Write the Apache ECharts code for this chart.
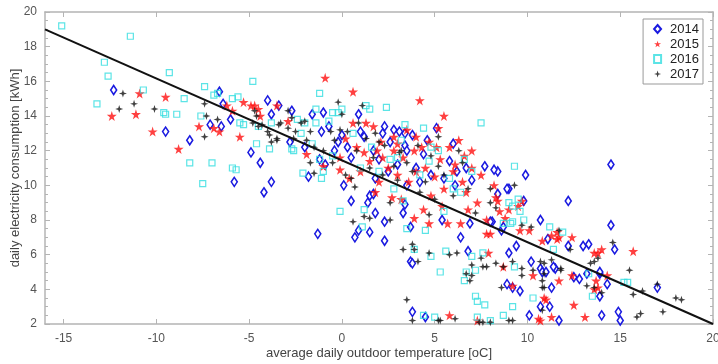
<!DOCTYPE html>
<html>
<head>
<meta charset="utf-8">
<script src="https://cdn.jsdelivr.net/npm/echarts@6/dist/echarts.min.js"></script>
<style>
  html, body { margin: 0; padding: 0; background: #fff; }
  #chart { width: 718px; height: 364px; }
</style>
</head>
<body>
<div id="chart"></div>
<script>
// [temperature oC, consumption kWh]
const data2014 = [
  [-12.3,15.5],[-9.5,13.1],[-8.2,12.6],[-7.1,13.5],[-6.6,15.4],[-6.5,13.4],[-6.4,14.7],[-6.0,13.8],[-4.9,11.9],[-4.4,11.3],
  [-5.8,10.2],[-4.2,9.6],[-3.8,10.2],[-4.0,14.9],[-3.8,14.1],[-3.4,14.6],[-2.7,14.3],[-2.8,12.5],[-1.6,14.1],[-1.0,14.2],
  [-0.7,13.4],[0.9,14.1],[-1.8,10.5],[-0.9,11.2],[-1.1,13.1],[-2.0,12.2],[-1.2,11.5],[0.3,12.2],[-0.2,12.5],[1.0,13.1],
  [-1.3,7.2],[0.1,10.0],[0.5,9.1],[0.7,7.0],[0.9,7.4],[1.4,9.0],[1.5,7.3],[1.5,9.4],
  [2.3,13.4],[2.2,13.0],[2.8,13.2],[3.1,13.1],[3.4,13.0],[3.8,12.9],[5.1,13.3],[3.4,12.3],[3.5,12.0],[4.4,11.8],[5.8,11.4],
  [6.7,11.0],[7.7,11.1],[1.7,12.0],[8.4,10.8],[8.2,10.9],[9.9,10.6],[14.5,11.2],
  [12.2,9.1],[9.0,9.8],[9.8,9.1],[10.7,8.0],[14.5,7.7],[8.4,9.5],[8.1,7.9],[8.6,7.4],
  [14.7,6.3],[13.0,6.5],[13.3,6.6],[12.2,6.5],[11.1,6.9],[9.0,6.1],[9.4,6.5],[10.2,5.6],[10.7,5.2],[11.5,5.2],[12.5,4.7],
  [12.8,4.6],[13.9,4.9],[14.3,4.3],[13.9,3.6],[17.0,4.1],[8.9,4.3],[9.2,4.1],[11.3,4.1],[11.2,3.0],[10.7,3.0],[10.1,2.5],
  [11.7,2.2],[14.0,2.5],[14.9,2.7],[15.0,2.2],[3.8,2.7],[4.5,2.4],[3.7,5.6],[6.4,7.0],[6.8,6.2],[6.9,7.8],[8.0,7.9],
  [8.7,7.6],[8.9,9.8],[5.4,8.0],[3.7,7.6],[2.3,6.8],[2.3,7.9],[1.8,8.4],[1.7,9.5],[3.3,8.4],[3.4,8.9],[3.5,10.0],[4.2,10.2],
  [6.1,10.0],[10.8,5.0],[11.4,5.3],[13.2,4.9],[13.9,5.0],[9.6,3.9],[11.0,5.0],[3.8,5.5],
  [1.2,12.8],[2.0,11.5],[2.5,10.8],[3.0,11.2],[4.0,11.0],[4.8,10.6],[0.5,11.6],[1.8,10.4],[5.5,10.4],[6.2,10.8],[2.6,12.5],
  [4.6,12.6],[6.0,12.4],[7.0,10.3],[0.0,12.9],[-0.4,12.0]
];
const data2015 = [
  [-12.4,14.0],[-10.9,15.3],[-11.1,14.1],[-10.2,13.1],[-9.5,15.1],[-8.8,12.1],[-7.7,13.4],[-6.9,13.3],[-6.6,13.1],[-6.2,14.6],
  [-5.9,14.3],[-5.5,12.8],[-5.3,14.8],[-4.9,14.6],[-4.5,14.4],[-4.4,14.0],[-3.5,14.6],[-2.9,13.7],[-0.9,16.2],[0.6,15.4],
  [-1.9,11.8],[-1.0,11.1],[-0.1,10.9],[-4.7,14.6],[0.6,13.6],[1.3,13.6],[0.2,12.7],[-0.1,11.6],[1.2,11.9],[1.5,11.4],[0.4,10.4],
  [4.2,14.9],[5.5,14.0],[1.7,13.4],[5.2,13.3],[5.8,12.2],[4.7,12.5],[4.3,12.2],[5.1,12.2],[6.6,11.7],[6.1,11.2],[5.3,11.5],
  [2.1,12.5],[2.8,12.0],[1.9,12.0],[3.9,12.0],[3.3,11.6],[2.8,12.8],
  [8.2,10.0],[8.3,9.3],[8.4,9.1],[8.5,8.5],[8.8,8.1],[9.5,8.8],[9.7,9.1],[9.6,7.4],[10.1,7.4],[12.4,7.0],[11.7,7.0],[11.3,7.1],[8.0,7.2],
  [15.7,6.2],[14.0,6.3],[13.6,6.1],[14.3,4.8],[13.7,4.5],[13.8,4.1],[12.4,4.8],[12.5,3.1],[11.7,4.5],[10.9,3.5],[11.3,2.4],
  [10.6,2.3],[10.7,2.2],[13.1,2.4],[10.3,4.8],[9.2,4.2],[8.7,5.3],[7.9,6.1],[5.8,2.5],[7.3,2.2],[11.6,6.9],[11.6,7.3],
  [10.8,6.8],[7.8,7.2],[6.4,7.8],[5.7,7.8],[5.4,8.8],[4.7,7.8],[4.4,8.6],[3.9,8.1],[3.2,9.2],[2.7,9.3],[1.8,9.6],[6.7,9.6],[7.3,9.0],
  [13.8,6.1],[13.6,4.0],[11.0,3.4],
  [2.5,11.0],[3.0,10.6],[3.6,10.2],[4.0,10.8],[4.5,11.0],[5.0,10.5],[6.0,10.8],[6.5,10.2],[7.0,11.0],[7.5,10.6],[5.5,9.8],
  [6.8,8.6],[2.0,10.2],[4.8,9.4],[1.0,10.8],[0.8,12.2],[3.5,13.2],[4.0,12.8],[6.3,12.6],[7.0,12.0],[2.2,11.6],[7.8,8.0],[9.0,8.6],[3.0,12.4]
];
const data2016 = [
  [-15.1,19.2],[-11.4,18.6],[-12.8,17.1],[-12.6,16.3],[-13.2,14.7],[-10.7,15.5],[-9.3,16.5],[-9.6,14.2],[-9.5,14.1],[-8.9,14.1],
  [-8.5,15.0],[-7.4,15.7],[-7.6,14.0],[-6.9,15.2],[-6.7,15.3],[-5.9,15.0],[-5.6,15.1],[-5.5,13.6],[-5.3,13.5],[-4.8,16.0],
  [-4.6,12.4],[-3.9,12.1],[-8.2,11.3],[-7.0,11.3],[-5.9,11.0],[-5.7,10.9],[-7.5,10.1],[-2.0,13.6],[-1.4,14.4],[-1.2,15.3],
  [-1.0,10.8],[-2.6,12.0],
  [-3.8,13.6],[-2.4,13.8],[-1.4,13.6],[-0.7,13.7],[-2.2,13.0],[-1.6,12.4],[-2.7,12.1],[-4.5,13.4],[-0.5,14.2],[-0.2,14.2],
  [0.0,14.4],[1.5,14.4],[-1.2,11.5],[-0.5,11.7],
  [-2.1,10.7],[-1.1,10.4],[-0.1,8.5],[1.2,8.6],[1.1,7.6],
  [2.4,14.5],[3.4,13.5],[4.4,13.3],[7.5,13.6],[5.2,12.0],[4.8,12.2],[6.6,11.5],[2.6,11.5],[4.7,11.4],[1.3,14.6],[9.3,11.1],
  [9.5,9.2],[9.2,8.8],[9.6,8.5],[9.0,9.0],[9.2,7.9],[9.8,8.0],[11.2,7.6],[11.9,7.3],[8.7,7.8],
  [15.2,4.4],[15.4,4.4],[13.5,3.6],[13.3,4.9],[11.4,6.3],[9.3,5.3],[10.3,3.5],[9.2,3.0],[7.7,3.1],[7.2,3.6],[7.3,3.3],
  [7.0,5.9],[6.6,4.5],[6.7,5.0],[5.6,6.2],[4.8,5.9],[7.6,6.1],[4.5,7.4],[3.9,6.3],[5.5,8.5],[3.5,7.5],[3.3,9.1],[7.3,2.4],
  [8.7,2.5],[4.4,2.5],[9.1,7.8],[5.3,5.0],[7.2,5.1],[5.0,2.4],[8.0,2.2],
  [1.0,11.0],[2.0,10.8],[3.0,11.6],[4.2,10.6],[5.8,10.4],[6.4,9.6],[3.2,12.6],[1.6,12.2],[0.6,13.0],[6.0,9.8],[7.0,10.8],[2.8,9.8]
];
const data2017 = [
  [-11.8,15.3],[-12.0,14.4],[-11.2,14.7],[-10.1,14.4],[-7.4,14.7],[-7.4,12.8],[-7.3,14.0],[-6.7,13.8],[-4.7,14.3],[-4.6,14.0],
  [-4.5,13.4],[-4.0,13.1],[-3.9,12.9],[-3.5,12.7],[-3.4,13.5],[-2.9,14.3],[-2.7,13.9],[-2.6,12.7],[-2.0,13.7],[-0.2,14.8],
  [-4.8,13.6],[-4.3,13.5],[-3.3,13.6],[-2.9,13.3],[-3.5,12.6],[-3.8,12.5],[0.0,14.1],[-0.1,13.2],[-2.2,13.6],[-1.7,13.1],
  [-2.5,13.1],[-1.9,12.6],[-1.5,12.2],[-1.0,12.0],[-0.6,13.1],[0.3,13.1],[0.9,13.6],[1.3,12.7],[-1.7,11.3],[-0.5,11.3],
  [-1.5,10.7],[0.7,9.9],[0.6,7.9],[1.2,8.2],[1.5,8.1],[0.2,10.6],[0.5,10.4],
  [5.2,12.8],[6.3,12.0],[4.1,12.3],[2.3,12.3],[3.1,11.9],[3.5,11.3],[1.7,11.6],[4.8,11.7],[5.2,11.1],[2.0,12.5],[1.1,14.6],
  [9.3,10.0],[11.7,7.4],[9.7,7.7],[10.2,7.6],[8.3,8.7],[8.0,9.0],
  [18.3,3.4],[18.0,3.5],[17.3,2.7],[17.0,4.3],[16.2,3.9],[15.7,3.7],[16.1,2.6],[15.9,2.4],[15.5,5.1],[14.6,6.7],[13.6,5.6],
  [13.8,5.8],[13.2,4.2],[14.0,3.8],[11.8,5.1],[11.3,5.7],[10.9,5.5],[10.8,4.5],[10.8,4.1],[10.7,5.6],[10.3,5.1],[9.7,5.2],
  [9.7,4.8],[8.7,5.3],[8.6,4.1],[8.3,5.5],[7.8,5.3],[7.6,5.3],[7.0,4.8],[6.9,4.5],[6.2,6.1],[5.8,6.0],[4.7,6.1],[4.1,5.6],
  [3.9,6.3],[3.3,6.3],[3.8,6.6],[3.5,3.4],[3.8,2.2],[5.2,2.2],[6.1,2.3],[7.4,2.1],[7.6,2.1],[8.0,2.1],[9.0,2.2],[9.2,2.2],
  [10.8,2.8],[4.7,8.3],[2.6,8.0],[2.6,9.0],
  [7.0,5.4],[6.7,4.9],[7.5,5.8],[9.2,5.6],[10.9,4.9],[11.8,5.2],[13.4,5.5],[10.9,4.1],[13.6,4.1],[12.3,6.3],[5.3,2.2],
  [1.5,11.0],[2.2,10.6],[3.0,10.3],[3.8,10.8],[4.5,10.2],[5.5,10.6],[6.0,9.4],[6.8,9.8],[2.8,11.1],[0.8,12.0],[1.8,13.0],
  [3.2,12.0],[4.2,9.6],[5.0,9.2],[7.2,8.4],[8.0,9.8],[6.5,11.3],[-0.4,12.6]
];
// fitted line end points
const fitX = [-16, 20];
const fitY = [19, 2];
const xTicks = [-15, -10, -5, 0, 5, 10, 15, 20];
const seriesNames = ['2014', '2015', '2016', '2017'];

const starPath = 'path://M50,0 L61,35 L98,35 L68,57 L79,91 L50,70 L21,91 L32,57 L2,35 L39,35 Z';
const plusPath = 'path://M5,0 L6.2,3.8 L10,5 L6.2,6.2 L5,10 L3.8,6.2 L0,5 L3.8,3.8 Z';

const axisGray = '#b4b4b4';
const labelGray = '#555';
const font = 'Liberation Sans, Arial, sans-serif';

const chart = echarts.init(document.getElementById('chart'));

const xBase = {
  type: 'value', min: -16, max: 20, interval: 1,
  axisLine: { show: true, onZero: false, lineStyle: { color: axisGray, width: 1.5 } },
  axisTick: { show: true, inside: true, length: 5, customValues: xTicks, lineStyle: { color: axisGray } },
  splitLine: { show: false }
};
const yBase = {
  type: 'value', min: 2, max: 20, interval: 2,
  axisLine: { show: true, onZero: false, lineStyle: { color: axisGray, width: 1.5 } },
  axisTick: { show: true, inside: true, length: 5, lineStyle: { color: axisGray } },
  minorTick: { show: true, splitNumber: 4, length: 3, lineStyle: { color: axisGray } },
  splitLine: { show: false }
};

chart.setOption({
  animation: false,
  backgroundColor: '#fff',
  textStyle: { fontFamily: font },
  grid: { left: 45, right: 5, top: 12, bottom: 40, outerBoundsMode: 'none', containLabel: false },
  legend: {
    orient: 'vertical', right: 15, top: 19,
    backgroundColor: '#fff', borderColor: '#999', borderWidth: 1,
    padding: [3, 4, 3, 10], itemGap: 1, itemWidth: 7, itemHeight: 8,
    textStyle: { fontSize: 13, color: '#222', fontFamily: font, lineHeight: 14, padding: [0, 0, 0, 4] },
    data: seriesNames
  },
  xAxis: [
    Object.assign({}, xBase, {
      position: 'bottom',
      name: 'average daily outdoor temperature [oC]', nameLocation: 'middle', nameGap: 23,
      nameMoveOverlap: false,
      nameTextStyle: { fontSize: 13, color: '#444' },
      axisLabel: { customValues: xTicks, fontSize: 12, color: labelGray, margin: 9 }
    }),
    Object.assign({}, xBase, { position: 'top', axisLabel: { show: false } })
  ],
  yAxis: [
    Object.assign({}, yBase, {
      position: 'left',
      name: 'daily electricity consumption [kWh]', nameLocation: 'middle', nameGap: 23,
      nameMoveOverlap: false,
      nameTextStyle: { fontSize: 13, color: '#444' },
      axisLabel: { fontSize: 12, color: labelGray, margin: 8 }
    }),
    Object.assign({}, yBase, { position: 'right', axisLabel: { show: false } })
  ],
  series: [
    {
      name: '2014', type: 'scatter', data: data2014, symbol: 'diamond', symbolSize: [6, 9],
      itemStyle: { color: '#fff', borderColor: '#1a1ae0', borderWidth: 1.6, opacity: 1 }
    },
    {
      name: '2015', type: 'scatter', data: data2015, symbol: starPath, symbolSize: 10,
      itemStyle: { color: '#ff1010' }
    },
    {
      name: '2016', type: 'scatter', data: data2016, symbol: 'rect', symbolSize: 6,
      itemStyle: { color: 'rgba(255,255,255,0)', borderColor: '#33dde0', borderWidth: 1.2 }
    },
    {
      name: '2017', type: 'scatter', data: data2017, symbol: plusPath, symbolSize: 8,
      itemStyle: { color: '#111' }
    },
    {
      name: 'fit', type: 'line', data: fitX.map((x, i) => [x, fitY[i]]),
      symbol: 'none', lineStyle: { color: '#111', width: 2 }, z: 5
    }
  ]
});
</script>
</body>
</html>
